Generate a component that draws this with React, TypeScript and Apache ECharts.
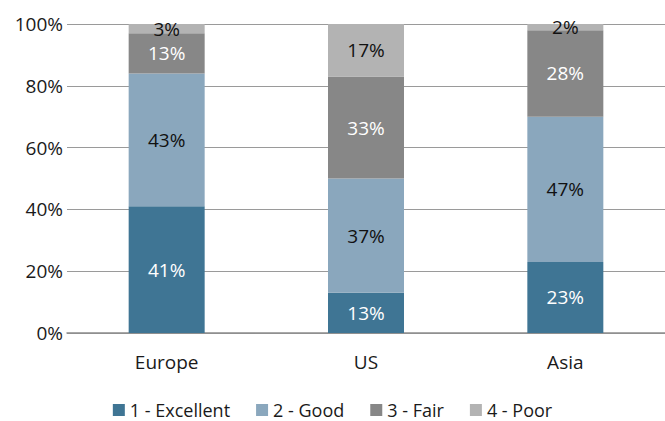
import React, { useEffect, useRef } from "react";
import * as echarts from "echarts";

const categories = ["Europe", "US", "Asia"];
const seriesNames = ["1 - Excellent", "2 - Good", "3 - Fair", "4 - Poor"];
const excellent = [41, 13, 23];
const good = [43, 37, 47];
const fair = [13, 33, 28];
const poor = [3, 17, 2];
const colors = ["#3f7594", "#8aa7bd", "#878787", "#b3b3b3"];
const labelColors = ["#ffffff", "#111111", "#ffffff", "#111111"];
const yTicks = [0, 20, 40, 60, 80, 100];

const FONT = "Open Sans";
const FS = 19;

export default function App() {
  const ref = useRef<HTMLDivElement>(null);
  useEffect(() => {
    const chart = echarts.init(ref.current!, null, { renderer: "svg" });
    const data = [excellent, good, fair, poor];
    chart.setOption({
      animation: false,
      textStyle: { fontFamily: FONT },
      grid: { left: 67, right: 0, top: 24, bottom: 88 },
      legend: {
        top: 398,
        left: "center",
        padding: 0,
        itemWidth: 12,
        itemHeight: 12,
        itemGap: 26,
        icon: "rect",
        textStyle: { fontSize: 18, lineHeight: 24, color: "#1a1a1a", fontFamily: FONT },
        data: seriesNames,
      },
      xAxis: {
        type: "category",
        data: categories,
        axisTick: { show: false },
        axisLine: { lineStyle: { color: "#8c8c8c", width: 1.5 } },
        axisLabel: { fontSize: FS, color: "#1a1a1a", margin: 19, fontFamily: FONT },
      },
      yAxis: {
        type: "value",
        min: yTicks[0],
        max: yTicks[yTicks.length - 1],
        interval: 20,
        axisLabel: {
          formatter: "{value}%",
          fontSize: FS,
          color: "#1a1a1a",
          margin: 4,
          fontFamily: FONT,
        },
        splitLine: { lineStyle: { color: "#9a9a9a", width: 1.2 } },
        axisLine: { show: false },
        axisTick: { show: false },
      },
      series: seriesNames.map((name, i) => ({
        name,
        type: "bar",
        stack: "total",
        barWidth: 76,
        data: data[i],
        itemStyle: { color: colors[i] },
        label: {
          show: true,
          position: "inside",
          formatter: "{c}%",
          fontSize: FS,
          color: labelColors[i],
          fontFamily: FONT,
        },
      })),
    });
    return () => chart.dispose();
  }, []);
  return <div ref={ref} style={{ width: 665, height: 421, position: "absolute", left: 0, top: 0 }} />;
}
